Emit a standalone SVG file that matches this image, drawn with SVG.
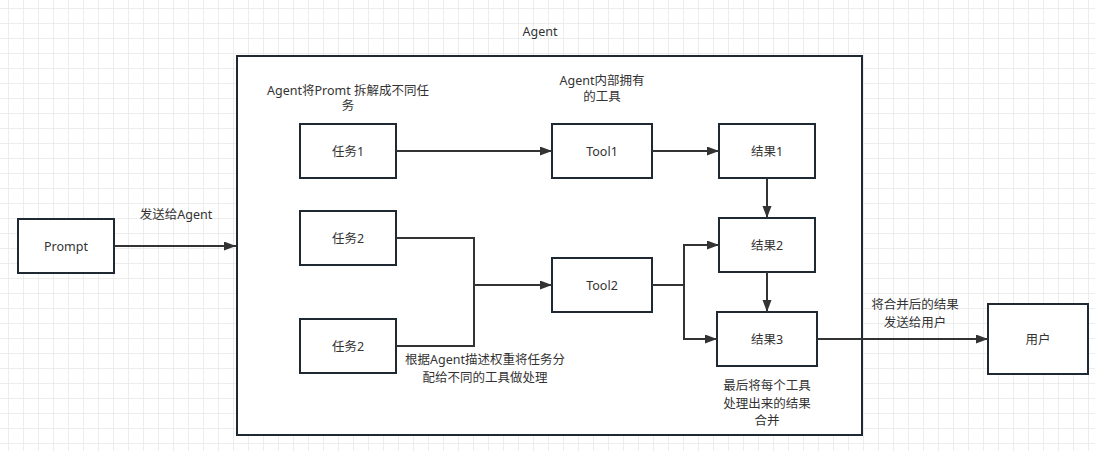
<svg xmlns="http://www.w3.org/2000/svg" width="1095" height="451" viewBox="0 0 1095 451">
  <defs>
    <pattern id="grid" x="8" y="8" width="15" height="15" patternUnits="userSpaceOnUse">
      <path d="M0,0 H15 M0,0 V15" fill="none" stroke="#e8e8e8" stroke-width="1.5"/>
    </pattern>
    <marker id="arrow" markerUnits="userSpaceOnUse" markerWidth="12" markerHeight="10" refX="12" refY="4.5" orient="auto">
      <path d="M0,0 L12,4.5 L0,9 Z" fill="#333"/>
    </marker>
    <style>
      .node { fill: #ffffff; stroke: #1f2933; stroke-width: 2; }
      .conn { fill: none; stroke: #333333; stroke-width: 2; marker-end: url(#arrow); }
      .plain { fill: none; stroke: #333333; stroke-width: 2; }
      .lbl { font-family: "Noto Sans", "Noto Sans CJK SC", sans-serif; font-size: 12.5px; fill: #333333; text-anchor: middle; }
    </style>
  </defs>
  <rect x="0" y="0" width="1095" height="451" fill="#ffffff"/>
  <rect x="0" y="0" width="1095" height="451" fill="url(#grid)"/>

  <g id="agent">
    <rect class="node" x="237" y="56" width="625" height="379"/>
    <text class="lbl" x="540" y="36">Agent</text>
  </g>

  <g id="prompt">
    <rect class="node" x="18" y="219" width="96" height="54"/>
    <text class="lbl" x="66" y="251">Prompt</text>
  </g>
  <g id="task1">
    <rect class="node" x="300" y="124" width="96" height="54"/>
    <text class="lbl" x="348" y="156">任务1</text>
  </g>
  <g id="task2a">
    <rect class="node" x="300" y="211" width="96" height="54"/>
    <text class="lbl" x="348" y="243">任务2</text>
  </g>
  <g id="task2b">
    <rect class="node" x="300" y="319" width="96" height="54"/>
    <text class="lbl" x="348" y="351">任务2</text>
  </g>
  <g id="tool1">
    <rect class="node" x="552" y="124" width="100" height="54"/>
    <text class="lbl" x="602" y="156">Tool1</text>
  </g>
  <g id="tool2">
    <rect class="node" x="552" y="258" width="100" height="54"/>
    <text class="lbl" x="602" y="290">Tool2</text>
  </g>
  <g id="result1">
    <rect class="node" x="719" y="124" width="96" height="54"/>
    <text class="lbl" x="767" y="156">结果1</text>
  </g>
  <g id="result2">
    <rect class="node" x="719" y="218" width="96" height="54"/>
    <text class="lbl" x="767" y="250">结果2</text>
  </g>
  <g id="result3">
    <rect class="node" x="717" y="312" width="100" height="54"/>
    <text class="lbl" x="767" y="344">结果3</text>
  </g>
  <g id="user">
    <rect class="node" x="988" y="304" width="100" height="70"/>
    <text class="lbl" x="1038" y="344">用户</text>
  </g>

  <g id="connectors">
    <path class="conn" d="M114,246 H236"/>
    <path class="conn" d="M396,151 H552"/>
    <path class="conn" d="M652,151 H719"/>
    <path class="conn" d="M767,178 V218"/>
    <path class="plain" d="M396,238 H474 V285"/>
    <path class="conn" d="M396,346 H474 V285 H552"/>
    <path class="conn" d="M652,285 H684 V245 H719"/>
    <path class="conn" d="M652,285 H684 V339 H717"/>
    <path class="conn" d="M767,272 V312"/>
    <path class="conn" d="M817,339 H988"/>
  </g>

  <g id="labels">
    <text class="lbl" x="176" y="219">发送给Agent</text>
    <text class="lbl" x="348" y="95">Agent将Promt 拆解成不同任</text>
    <text class="lbl" x="348" y="110">务</text>
    <text class="lbl" x="602" y="85">Agent内部拥有</text>
    <text class="lbl" x="602" y="101">的工具</text>
    <text class="lbl" x="485" y="364">根据Agent描述权重将任务分</text>
    <text class="lbl" x="485" y="382">配给不同的工具做处理</text>
    <text class="lbl" x="767" y="390">最后将每个工具</text>
    <text class="lbl" x="767" y="408">处理出来的结果</text>
    <text class="lbl" x="767" y="425">合并</text>
    <text class="lbl" x="915" y="309">将合并后的结果</text>
    <text class="lbl" x="915" y="327">发送给用户</text>
  </g>
</svg>
